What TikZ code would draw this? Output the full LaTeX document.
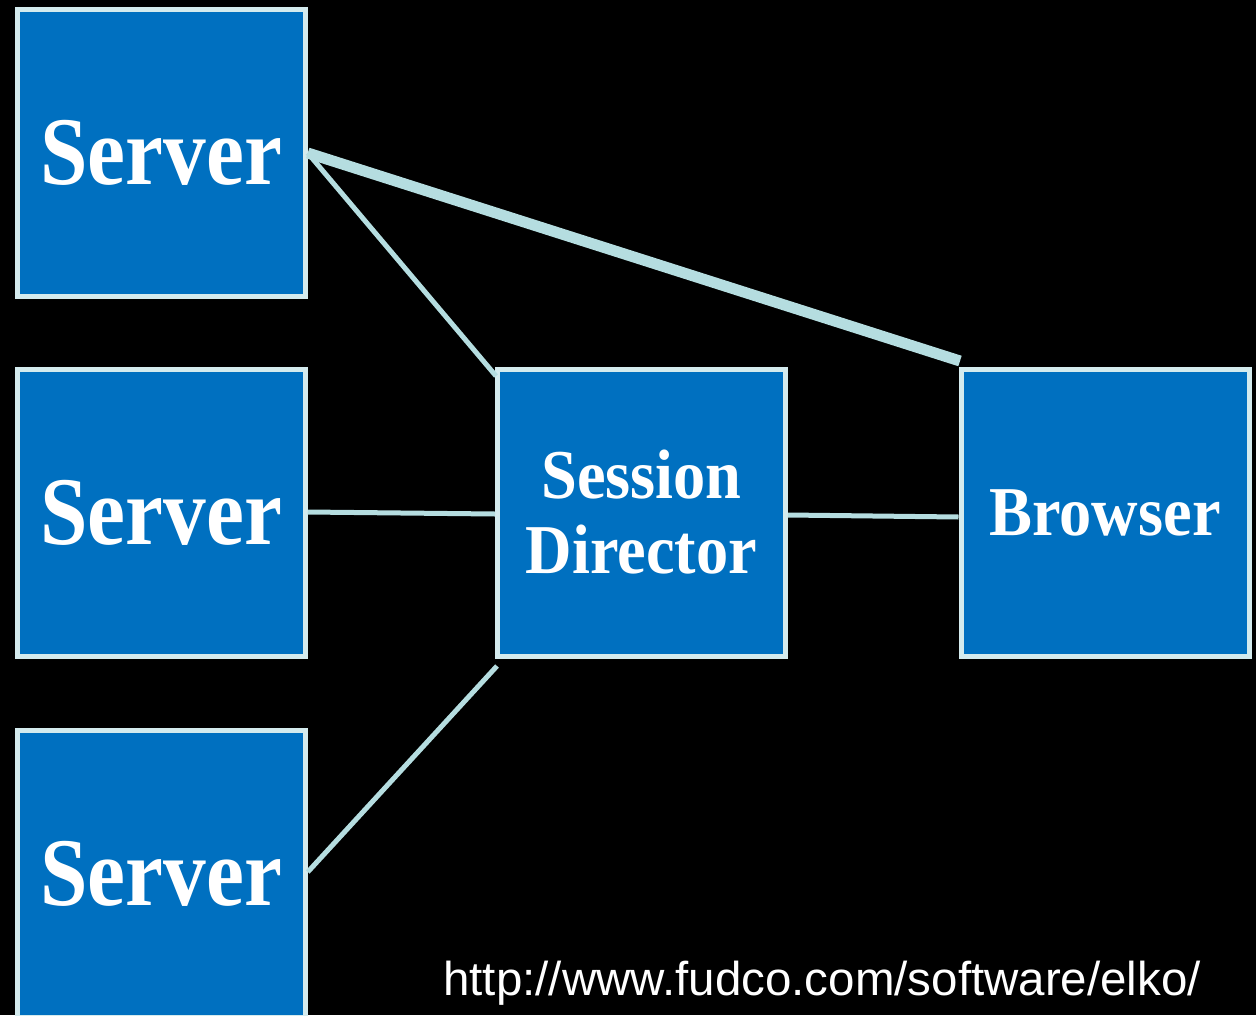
\documentclass[tikz,border=0pt]{standalone}
\usepackage{fontspec}
\newfontfamily\boxfont[FakeStretch=0.88]{Liberation Serif}
\newfontfamily\boxfontwide[FakeStretch=0.92]{Liberation Serif}
\newfontfamily\urlfont{Liberation Sans}
\definecolor{boxfill}{HTML}{0070C0}
\definecolor{boxedge}{HTML}{D4EBEE}
\definecolor{linkcol}{HTML}{B5DDE0}
\begin{document}
\begin{tikzpicture}[x=1pt,y=-1pt,
  unit/.style={rectangle, draw=boxedge, fill=boxfill, line width=5pt,
    minimum width=288pt, minimum height=287pt, inner sep=0pt,
    text=white, font=\boxfont\bfseries},
  bigname/.style={unit, font=\boxfont\bfseries\fontsize{97}{97}\selectfont},
  smallname/.style={unit, align=center,
    font=\boxfontwide\bfseries\fontsize{70}{75}\selectfont},
  link/.style={draw=linkcol, line width=5pt},
  mainlink/.style={draw=linkcol, line width=11pt}]
  % page frame and black backdrop
  \useasboundingbox (0,0) rectangle (1256,1015);
  \clip (0,0) rectangle (1256,1015);
  \fill[black] (0,0) rectangle (1256,1015);

  % connector end points
  \coordinate (s1p) at (306,153);
  \coordinate (s2p) at (306,512);
  \coordinate (s3p) at (306,872);
  \coordinate (sdtl) at (496,376);
  \coordinate (sdl) at (496,514);
  \coordinate (sdbl) at (497,666);
  \coordinate (sdr) at (786,515);
  \coordinate (brl) at (961,517);
  \coordinate (brtl) at (960,361);

  % boxes
  \node[bigname] (s1) at (161.25,152.75) {Server};
  \node[bigname] (s2) at (161.25,513) {Server};
  \node[bigname] (s3) at (161.25,873.5) {Server};
  \node[smallname] (sd) at (641.5,512.5) {Session\\Director};
  \node[smallname] (br) at (1105,512.5) {Browser};

  % connectors
  \draw[mainlink] (s1.east |- s1p) -- (brtl);
  \draw[link] (s1.east |- s1p) -- (sdtl);
  \draw[link] (s2.east |- s2p) -- (sd.west |- sdl);
  \draw[link] (sd.east |- sdr) -- (br.west |- brl);
  \draw[link] (s3.east |- s3p) -- (sdbl);

  % source address
  \node[anchor=base west, inner sep=0pt, text=white,
    font=\urlfont\fontsize{47.5}{50}\selectfont] (url) at (443,995)
    {http://www.fudco.com/software/elko/};
\end{tikzpicture}
\end{document}
